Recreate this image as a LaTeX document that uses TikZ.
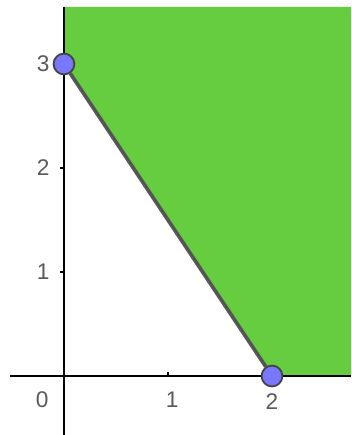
\documentclass[tikz,border=0pt]{standalone}
\usepackage{fontspec}
\setmainfont{Liberation Sans}
\usepackage{xcolor}
\usepackage{tikz}
\usetikzlibrary{positioning}

\definecolor{regiongreen}{RGB}{102,204,64}
\definecolor{pointblue}{RGB}{120,120,255}
\definecolor{edgegray}{RGB}{85,85,85}
\definecolor{labelgray}{RGB}{90,90,90}

\begin{document}
\begin{tikzpicture}[
    axis/.style={line width=0.45pt, black},
    tick/.style={line width=0.45pt, black},
    lbl/.style={text=labelgray, font=\fontsize{6.2}{7}\selectfont, inner sep=0pt},
    pt/.style={circle, draw=edgegray!80!black, line width=0.5pt, fill=pointblue, minimum size=0.2cm, inner sep=0pt},
    seg/.style={line width=1pt, edgegray}
]
\useasboundingbox (-0.615,-0.567) rectangle (2.76,3.615);

% feasible region
\fill[regiongreen] (0,3) -- (2,0) -- (2.76,0) -- (2.76,3.548) -- (0,3.548) -- cycle;

% axes
\coordinate (xl) at (-0.52,0);
\coordinate (xr) at (2.76,0);
\coordinate (yb) at (0,-0.567);
\coordinate (yt) at (0,3.548);
\draw[axis] (xl) -- (xr);
\draw[axis] (yb) -- (yt);

% ticks
\foreach \t in {1,2}
    \draw[tick] (\t,0) -- (\t,0.04);
\foreach \t in {1,2,3}
    \draw[tick] (0,\t) -- (-0.04,\t);

% labels
\node[lbl] (o) at (-0.21,-0.23) {0};
\node[lbl] (x1) at (1.04,-0.23) {1};
\node[lbl] (x2) at (2.0,-0.25) {2};
\node[lbl] (y1) at (-0.2,1) {1};
\node[lbl] (y2) at (-0.2,2) {2};
\node[lbl] (y3) at (-0.2,3) {3};

% boundary line and points
\node[pt] (a) at (0,3) {};
\node[pt] (b) at (2,0) {};
\draw[seg] (a) -- (b);
\end{tikzpicture}
\end{document}
